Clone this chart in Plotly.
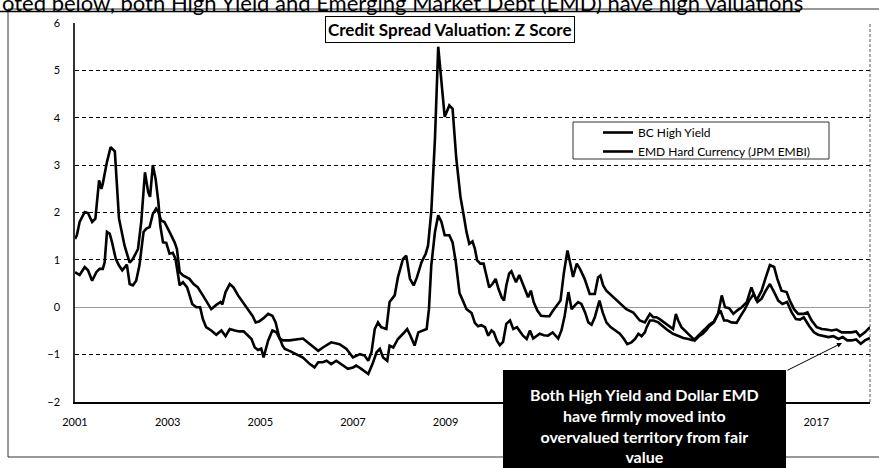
import plotly.graph_objects as go

# ---- data (decimal year, z-score) ----
hy_year = [2001.00, 2001.04, 2001.10, 2001.21, 2001.28, 2001.37, 2001.44, 2001.52, 2001.57, 2001.60,
           2001.69, 2001.77, 2001.86, 2001.95, 2002.07, 2002.18, 2002.25, 2002.36, 2002.43, 2002.51,
           2002.58, 2002.62, 2002.68, 2002.74, 2002.80, 2002.84, 2002.90, 2002.97, 2003.04, 2003.11,
           2003.17, 2003.26, 2003.33, 2003.42, 2003.53, 2003.62, 2003.70, 2003.76, 2003.83, 2003.94,
           2004.05, 2004.16, 2004.25, 2004.34, 2004.45, 2004.55, 2004.64, 2004.73, 2004.81, 2004.88,
           2004.95, 2005.02, 2005.07, 2005.17, 2005.26, 2005.35, 2005.42, 2005.50, 2005.60, 2005.63,
           2005.92, 2006.07, 2006.25, 2006.35, 2006.53, 2006.71, 2006.86, 2007.00, 2007.15, 2007.25,
           2007.33, 2007.40, 2007.47, 2007.54, 2007.61, 2007.72, 2007.79, 2007.90, 2007.97, 2008.08,
           2008.15, 2008.23, 2008.31, 2008.38, 2008.48, 2008.57, 2008.62, 2008.69, 2008.77, 2008.84,
           2008.91, 2008.98, 2009.08, 2009.15, 2009.23, 2009.32, 2009.39, 2009.45, 2009.51, 2009.58,
           2009.63, 2009.68, 2009.75, 2009.82, 2009.88, 2009.94, 2010.01, 2010.08, 2010.14, 2010.21,
           2010.26, 2010.31, 2010.37, 2010.42, 2010.47, 2010.52, 2010.59, 2010.66, 2010.73, 2010.78,
           2010.84, 2010.90, 2010.98, 2011.06, 2011.16, 2011.24, 2011.32, 2011.41, 2011.48, 2011.55,
           2011.63, 2011.70, 2011.75, 2011.83, 2011.90, 2012.00, 2012.11, 2012.22, 2012.29, 2012.34,
           2012.40, 2012.47, 2012.62, 2012.76, 2012.90, 2013.05, 2013.19, 2013.30, 2013.41, 2013.48,
           2013.55, 2013.62, 2013.71, 2013.80, 2013.91, 2013.97, 2014.02, 2014.09, 2014.20, 2014.29,
           2014.38, 2014.47, 2014.55, 2014.62, 2014.69, 2014.79, 2014.88, 2014.96, 2015.03, 2015.12,
           2015.21, 2015.29, 2015.39, 2015.50, 2015.60, 2015.71, 2015.82, 2015.91, 2016.00, 2016.09,
           2016.16, 2016.25, 2016.36, 2016.43, 2016.52, 2016.61, 2016.72, 2016.81, 2016.90, 2017.01,
           2017.12, 2017.22, 2017.33, 2017.44, 2017.55, 2017.66, 2017.76, 2017.86, 2017.94, 2018.05,
           2018.16]
hy_z = [1.44, 1.52, 1.80, 2.01, 1.99, 1.80, 1.87, 2.68, 2.50, 2.61,
        3.07, 3.38, 3.29, 1.87, 1.30, 0.94, 1.02, 1.23, 1.80, 2.85,
        2.43, 2.33, 3.00, 2.71, 2.22, 1.73, 1.37, 1.36, 1.13, 1.15,
        1.02, 0.46, 0.53, 0.42, 0.07, 0.00, 0.00, -0.25, -0.42, -0.49,
        -0.58, -0.49, -0.61, -0.46, -0.49, -0.51, -0.51, -0.60, -0.67, -0.85,
        -0.90, -0.87, -1.06, -0.70, -0.49, -0.53, -0.67, -0.70, -0.70, -0.70,
        -0.66, -0.78, -0.92, -0.85, -0.74, -0.78, -0.88, -1.06, -0.99, -1.02,
        -1.13, -0.95, -0.46, -0.32, -0.42, -0.46, 0.11, 0.25, 0.63, 1.02,
        1.09, 0.60, 0.46, 0.63, 0.95, 1.13, 1.30, 2.01, 3.56, 5.50,
        4.69, 4.02, 4.26, 4.19, 3.14, 2.33, 1.94, 1.59, 1.34, 1.39,
        1.24, 0.99, 0.92, 0.92, 0.67, 0.42, 0.49, 0.60, 0.39, 0.21,
        0.14, 0.46, 0.71, 0.76, 0.64, 0.53, 0.68, 0.49, 0.32, 0.21,
        0.35, 0.11, -0.07, -0.18, -0.19, -0.19, -0.07, 0.05, 0.14, 0.71,
        1.20, 0.88, 0.64, 0.92, 0.81, 0.60, 0.28, 0.28, 0.63, 0.67,
        0.46, 0.35, 0.21, 0.07, -0.04, -0.11, -0.28, -0.32, -0.14, -0.21,
        -0.21, -0.25, -0.32, -0.39, -0.46, -0.14, -0.28, -0.42, -0.53, -0.63,
        -0.70, -0.61, -0.56, -0.49, -0.40, -0.32, -0.14, 0.25, 0.00, -0.02,
        -0.14, -0.07, 0.00, 0.11, 0.42, 0.14, 0.35, 0.63, 0.89, 0.85,
        0.60, 0.35, 0.32, 0.14, -0.04, -0.14, -0.14, -0.11, -0.28, -0.42,
        -0.46, -0.47, -0.49, -0.47, -0.53, -0.53, -0.53, -0.51, -0.61, -0.53,
        -0.42]

emd_year = [2001.00, 2001.10, 2001.21, 2001.28, 2001.37, 2001.46, 2001.53, 2001.60, 2001.64, 2001.69,
            2001.75, 2001.80, 2001.88, 2001.95, 2002.02, 2002.07, 2002.12, 2002.18, 2002.25, 2002.32,
            2002.39, 2002.48, 2002.54, 2002.61, 2002.68, 2002.75, 2002.80, 2002.86, 2002.93, 2003.04,
            2003.15, 2003.20, 2003.26, 2003.33, 2003.47, 2003.56, 2003.65, 2003.76, 2003.85, 2003.94,
            2004.05, 2004.14, 2004.18, 2004.25, 2004.34, 2004.42, 2004.52, 2004.63, 2004.73, 2004.83,
            2004.90, 2004.97, 2005.07, 2005.17, 2005.26, 2005.33, 2005.40, 2005.48, 2005.53, 2005.63,
            2005.92, 2006.07, 2006.17, 2006.25, 2006.35, 2006.43, 2006.53, 2006.64, 2006.75, 2006.89,
            2007.00, 2007.07, 2007.18, 2007.33, 2007.42, 2007.51, 2007.58, 2007.65, 2007.74, 2007.79,
            2007.87, 2007.97, 2008.08, 2008.17, 2008.24, 2008.33, 2008.41, 2008.51, 2008.59, 2008.64,
            2008.69, 2008.77, 2008.84, 2008.91, 2008.98, 2009.08, 2009.15, 2009.22, 2009.30, 2009.38,
            2009.45, 2009.56, 2009.63, 2009.70, 2009.77, 2009.85, 2009.92, 2009.99, 2010.04, 2010.11,
            2010.17, 2010.24, 2010.31, 2010.39, 2010.46, 2010.54, 2010.62, 2010.67, 2010.75, 2010.82,
            2010.89, 2010.96, 2011.03, 2011.12, 2011.21, 2011.31, 2011.38, 2011.43, 2011.50, 2011.57,
            2011.65, 2011.72, 2011.79, 2011.86, 2011.93, 2012.01, 2012.08, 2012.15, 2012.22, 2012.32,
            2012.39, 2012.47, 2012.56, 2012.65, 2012.76, 2012.85, 2012.92, 2013.01, 2013.09, 2013.16,
            2013.23, 2013.30, 2013.34, 2013.41, 2013.49, 2013.59, 2013.70, 2013.80, 2013.91, 2014.02,
            2014.13, 2014.24, 2014.34, 2014.42, 2014.50, 2014.60, 2014.69, 2014.79, 2014.88, 2014.93,
            2015.01, 2015.08, 2015.17, 2015.28, 2015.37, 2015.46, 2015.55, 2015.65, 2015.73, 2015.82,
            2015.91, 2016.00, 2016.09, 2016.18, 2016.27, 2016.37, 2016.47, 2016.56, 2016.65, 2016.73,
            2016.85, 2016.95, 2017.04, 2017.15, 2017.26, 2017.37, 2017.48, 2017.57, 2017.67, 2017.76,
            2017.86, 2017.96, 2018.05, 2018.16]
emd_z = [0.74, 0.68, 0.85, 0.78, 0.56, 0.74, 0.81, 0.81, 0.95, 1.59,
         1.55, 1.37, 1.02, 0.88, 0.78, 0.85, 0.90, 0.49, 0.46, 0.56,
         0.88, 1.59, 1.66, 1.69, 1.97, 2.08, 2.01, 1.83, 1.80, 1.59,
         1.37, 1.23, 0.74, 0.67, 0.60, 0.49, 0.42, 0.25, 0.11, -0.04,
         0.05, 0.11, 0.06, 0.32, 0.49, 0.42, 0.25, 0.11, -0.04, -0.18,
         -0.32, -0.30, -0.23, -0.14, -0.18, -0.32, -0.60, -0.81, -0.88, -0.92,
         -1.06, -1.20, -1.27, -1.16, -1.16, -1.13, -1.20, -1.13, -1.20, -1.30,
         -1.27, -1.23, -1.30, -1.41, -1.20, -0.95, -0.88, -1.06, -1.13, -0.81,
         -0.85, -0.67, -0.56, -0.46, -0.60, -0.81, -0.53, -0.49, -0.46, -0.04,
         0.88, 1.59, 1.94, 1.80, 1.52, 1.52, 1.37, 0.95, 0.30, 0.12,
         -0.04, -0.12, -0.33, -0.40, -0.38, -0.42, -0.60, -0.49, -0.53, -0.71,
         -0.80, -0.73, -0.35, -0.28, -0.46, -0.42, -0.53, -0.60, -0.67, -0.49,
         -0.66, -0.61, -0.56, -0.59, -0.60, -0.53, -0.60, -0.66, -0.49, -0.18,
         0.32, -0.04, 0.04, 0.11, 0.07, -0.11, -0.32, -0.37, -0.21, 0.14,
         -0.11, -0.32, -0.42, -0.49, -0.56, -0.67, -0.78, -0.74, -0.67, -0.56,
         -0.61, -0.53, -0.42, -0.28, -0.28, -0.32, -0.42, -0.49, -0.56, -0.61,
         -0.65, -0.67, -0.70, -0.63, -0.56, -0.46, -0.37, -0.30, -0.14, -0.07,
         -0.28, -0.28, -0.32, -0.33, -0.18, -0.04, 0.14, 0.28, 0.11, 0.18,
         0.35, 0.49, 0.32, 0.14, 0.07, 0.11, -0.11, -0.25, -0.26, -0.21,
         -0.40, -0.53, -0.58, -0.61, -0.63, -0.61, -0.67, -0.63, -0.70, -0.70,
         -0.68, -0.77, -0.70, -0.65]

series_names = ["BC High Yield", "EMD Hard Currency (JPM EMBI)"]
# 2011, 2013 and 2015 are hidden behind the call-out box in the reference
year_ticks = [2001, 2003, 2005, 2007, 2009, 2017]
y_ticks = [-2, -1, 0, 1, 2, 3, 4, 5, 6]

chart_title = "Credit Spread Valuation: Z Score"
headline = "oted below, both High Yield and Emerging Market Debt (EMD) have high valuations"
callout = ("Both High Yield and Dollar EMD<br>have firmly moved into<br>"
           "overvalued territory from fair<br>value")

FONT = "Lato"
W, H = 879, 468
L, R, T, B = 75, 9, 23, 66
PW, PH = W - L - R, H - T - B


def px(x):  # page x -> paper x
    return (x - L) / PW


def py(y):  # page y -> paper y
    return (H - B - y) / PH


fig = go.Figure()
fig.add_trace(go.Scatter(x=hy_year, y=hy_z, mode="lines", name=series_names[0],
                         line=dict(color="black", width=2.6)))
fig.add_trace(go.Scatter(x=emd_year, y=emd_z, mode="lines", name=series_names[1],
                         line=dict(color="black", width=2.6)))

fig.update_layout(
    width=W, height=H,
    margin=dict(l=L, r=R, t=T, b=B),
    paper_bgcolor="white", plot_bgcolor="white",
    font=dict(family=FONT, color="black", size=11),
    showlegend=True,
    legend=dict(x=px(598), y=py(118), xanchor="left", yanchor="top",
                bgcolor="rgba(0,0,0,0)", borderwidth=0,
                font=dict(family=FONT, size=12), tracegroupgap=0,
                itemwidth=30),
    xaxis=dict(range=[2001, 2018.16], tickvals=year_ticks,
               ticktext=[str(v) for v in year_ticks], showgrid=False,
               zeroline=False, showline=True, linecolor="black", linewidth=1.5,
               ticks="", tickfont=dict(size=11), ticklabelstandoff=9),
    yaxis=dict(range=[-2, 6], tickvals=y_ticks, showgrid=True, gridcolor="black",
               gridwidth=1, griddash="4px,3px", zeroline=True, zerolinecolor="#9a9a9a",
               zerolinewidth=1, showline=True, linecolor="#333", linewidth=1.5,
               ticks="", tickfont=dict(size=11), ticklabelstandoff=11),
)

shapes = [
    # outer chart frame
    dict(type="rect", xref="paper", yref="paper", x0=px(8), x1=px(880), y0=py(457), y1=py(9),
         line=dict(color="#333", width=1), layer="below"),
    # right border of plot area
    dict(type="line", xref="paper", yref="paper", x0=1, x1=1, y0=0, y1=1,
         line=dict(color="#555", width=1, dash="3px,2px")),
    # legend box
    dict(type="rect", xref="paper", yref="paper", x0=px(573), x1=px(829), y0=py(159), y1=py(122),
         line=dict(color="#333", width=1), fillcolor="white", layer="below"),
    # headline underline
    dict(type="line", xref="paper", yref="paper", x0=px(0), x1=px(800), y0=py(11.5), y1=py(11.5),
         line=dict(color="black", width=1.5)),
    # callout box
    dict(type="rect", xref="paper", yref="paper", x0=px(503), x1=px(786), y0=py(475), y1=py(370),
         line=dict(color="black", width=0), fillcolor="black", layer="above"),
]
fig.update_layout(shapes=shapes)

fig.add_annotation(xref="paper", yref="paper", x=px(450), y=py(29), text="<b>" + chart_title + "</b>",
                   showarrow=False, font=dict(family=FONT, size=17, color="black"),
                   bgcolor="white", bordercolor="black", borderwidth=1, borderpad=2,
                   xanchor="center", yanchor="middle")
fig.add_annotation(xref="paper", yref="paper", x=px(0), y=py(2), text=headline,
                   showarrow=False, font=dict(family=FONT, size=22, color="black"),
                   xanchor="left", yanchor="middle")
fig.add_annotation(xref="paper", yref="paper", x=px(644), y=py(425), text="<b>" + callout + "</b>",
                   showarrow=False, font=dict(family=FONT, size=16, color="white"),
                   xanchor="center", yanchor="middle", align="center")
fig.add_annotation(xref="paper", yref="paper", x=px(842), y=py(343), ax=-56, ay=28, text="",
                   showarrow=True, arrowhead=2, arrowsize=1, arrowwidth=1, arrowcolor="black")

fig.write_html("out.html")
